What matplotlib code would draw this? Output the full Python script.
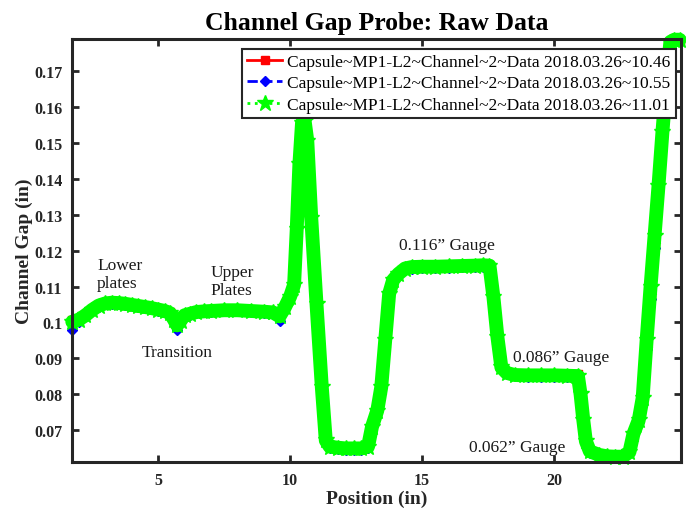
"""
Channel gap probe raw data plot
"""
import matplotlib
matplotlib.use("Agg")
import matplotlib.pyplot as plt

# position along the channel (in)
position = [
    1.75, 2.0, 2.25, 2.5, 2.75, 3.0, 3.25, 3.5, 3.75, 4.0,
    4.25, 4.5, 4.75, 5.0, 5.25, 5.45, 5.6, 5.72, 5.85, 6.0,
    6.2, 6.45, 6.75, 7.0, 7.5, 8.0, 8.5, 9.0, 9.35, 9.6,
    9.8, 10.0, 10.15, 10.25, 10.35, 10.45, 10.55, 10.65, 10.8, 11.0,
    11.2, 11.35, 11.5, 11.8, 12.1, 12.4, 12.7, 12.95, 13.1, 13.3,
    13.45, 13.6, 13.75, 13.9, 14.1, 14.35, 14.6, 15.0, 15.5, 16.0,
    16.5, 17.0, 17.3, 17.55, 17.7, 17.85, 18.0, 18.2, 18.5, 19.0,
    19.5, 20.0, 20.5, 20.9, 21.0, 21.1, 21.2, 21.35, 21.7, 22.0,
    22.3, 22.6, 22.85, 23.0, 23.2, 23.35, 23.5, 23.65, 23.8, 23.95,
    24.1, 24.25, 24.4, 24.55, 24.75,
]

# channel gap (in) for the three runs
gap_1046 = [
    0.1006, 0.1012, 0.1023, 0.1037, 0.1048, 0.1054, 0.1056, 0.1055, 0.1053, 0.1050,
    0.1047, 0.1044, 0.1041, 0.1037, 0.1034, 0.1030, 0.1012, 0.0995, 0.1008, 0.1022,
    0.1025, 0.1030, 0.1032, 0.1033, 0.1035, 0.1035, 0.1033, 0.1031, 0.1029, 0.1019,
    0.1044, 0.1074, 0.1108, 0.1265, 0.1445, 0.1562, 0.1568, 0.1510, 0.1295, 0.1055,
    0.0825, 0.0675, 0.0656, 0.0653, 0.0651, 0.0651, 0.0651, 0.0656, 0.0712, 0.0757,
    0.0822, 0.0952, 0.1082, 0.1119, 0.1136, 0.1151, 0.1155, 0.1156, 0.1156, 0.1157,
    0.1158, 0.1159, 0.1160, 0.1161, 0.1074, 0.0963, 0.0877, 0.0861, 0.0855, 0.0854,
    0.0854, 0.0854, 0.0853, 0.0856, 0.0805, 0.0733, 0.0672, 0.0643, 0.0633, 0.0629,
    0.0628, 0.0628, 0.0641, 0.0692, 0.0730, 0.0792, 0.0935, 0.1075, 0.1215, 0.1355,
    0.1495, 0.1643, 0.1762, 0.1786, 0.1786,
]
gap_1055 = [
    0.0978, 0.1002, 0.1017, 0.1032, 0.1044, 0.1050, 0.1052, 0.1051, 0.1049, 0.1046,
    0.1043, 0.1040, 0.1037, 0.1033, 0.1029, 0.1023, 0.1004, 0.0978, 0.1001, 0.1016,
    0.1020, 0.1026, 0.1028, 0.1029, 0.1031, 0.1031, 0.1029, 0.1027, 0.1025, 0.1005,
    0.1038, 0.1068, 0.1100, 0.1255, 0.1435, 0.1550, 0.1555, 0.1500, 0.1285, 0.1045,
    0.0815, 0.0668, 0.0650, 0.0647, 0.0645, 0.0645, 0.0645, 0.0650, 0.0706, 0.0751,
    0.0816, 0.0946, 0.1076, 0.1114, 0.1131, 0.1146, 0.1150, 0.1151, 0.1151, 0.1152,
    0.1153, 0.1154, 0.1155, 0.1154, 0.1066, 0.0956, 0.0871, 0.0856, 0.0850, 0.0849,
    0.0849, 0.0849, 0.0848, 0.0847, 0.0796, 0.0726, 0.0666, 0.0638, 0.0628, 0.0624,
    0.0623, 0.0623, 0.0636, 0.0686, 0.0724, 0.0786, 0.0926, 0.1066, 0.1206, 0.1346,
    0.1486, 0.1636, 0.1756, 0.1784, 0.1784,
]
gap_1101 = [
    0.1002, 0.1008, 0.1020, 0.1035, 0.1047, 0.1053, 0.1055, 0.1054, 0.1052, 0.1049,
    0.1046, 0.1043, 0.1040, 0.1036, 0.1032, 0.1026, 0.1008, 0.0992, 0.1005, 0.1020,
    0.1024, 0.1029, 0.1031, 0.1032, 0.1034, 0.1034, 0.1032, 0.1030, 0.1028, 0.1017,
    0.1042, 0.1072, 0.1105, 0.1260, 0.1440, 0.1555, 0.1560, 0.1505, 0.1290, 0.1050,
    0.0820, 0.0672, 0.0655, 0.0652, 0.0650, 0.0650, 0.0650, 0.0655, 0.0710, 0.0755,
    0.0820, 0.0950, 0.1080, 0.1118, 0.1135, 0.1150, 0.1154, 0.1155, 0.1155, 0.1156,
    0.1157, 0.1158, 0.1159, 0.1158, 0.1070, 0.0960, 0.0875, 0.0860, 0.0854, 0.0853,
    0.0853, 0.0853, 0.0852, 0.0851, 0.0800, 0.0730, 0.0670, 0.0642, 0.0632, 0.0628,
    0.0627, 0.0627, 0.0640, 0.0690, 0.0728, 0.0790, 0.0950, 0.1100, 0.1240, 0.1380,
    0.1530, 0.1670, 0.1780, 0.1786, 0.1786,
]

labels = [
    "Capsule~MP1-L2~Channel~2~Data 2018.03.26~10.46",
    "Capsule~MP1-L2~Channel~2~Data 2018.03.26~10.55",
    "Capsule~MP1-L2~Channel~2~Data 2018.03.26~11.01",
]

# annotation text and where it sits (data coords)
notes = ["Lower\nplates", "Transition", "Upper\nPlates",
         "0.116\u201d Gauge", "0.086\u201d Gauge", "0.062\u201d Gauge"]
note_x = [2.69, 4.39, 6.97, 14.13, 18.44, 16.78]
note_y = [0.1135, 0.0917, 0.1115, 0.1216, 0.0903, 0.0654]

plt.rcParams["font.family"] = ["Liberation Serif", "DejaVu Serif"]

fig = plt.figure(figsize=(6.86, 5.10), dpi=100)
ax = fig.add_axes([0.105, 0.092, 0.888, 0.8296])

ax.plot(position, gap_1046, color="red", linestyle="-", linewidth=2,
        marker="s", markersize=6, clip_on=False, label=labels[0])
ax.plot(position, gap_1055, color="blue", linestyle="--", linewidth=2,
        marker="D", markersize=5, clip_on=False, label=labels[1])
# thick band under the stars, the raw data is sampled very densely
ax.plot(position, gap_1101, color="#00ff00", linestyle="-", linewidth=10,
        solid_capstyle="round", solid_joinstyle="round", clip_on=False)
ax.plot(position, gap_1101, color="#00ff00", linestyle=":", linewidth=2,
        marker="*", markersize=12, clip_on=False, label=labels[2])

for txt, x, y in zip(notes, note_x, note_y):
    ax.text(x, y, txt, fontsize=12.5, ha="left", va="center",
            linespacing=1.2, color="#1a1a1a")

ax.set_xlim(1.74, 24.81)
ax.set_ylim(0.0612, 0.1788)
ax.set_xticks([5, 10, 15, 20])
ax.set_yticks([0.07, 0.08, 0.09, 0.1, 0.11, 0.12, 0.13, 0.14, 0.15, 0.16, 0.17])
ax.set_yticklabels(["0.07", "0.08", "0.09", "0.1", "0.11", "0.12", "0.13",
                    "0.14", "0.15", "0.16", "0.17"])

ax.tick_params(direction="in", top=True, right=True, length=5, width=2,
               labelsize=11.5, color="#262626", labelcolor="#262626")
ax.tick_params(axis="x", pad=7)
ax.tick_params(axis="y", pad=7)
for lbl in ax.get_xticklabels() + ax.get_yticklabels():
    lbl.set_fontweight("bold")
for sp in ax.spines.values():
    sp.set_linewidth(2.2)
    sp.set_color("#262626")

ax.set_title("Channel Gap Probe: Raw Data", fontsize=18.5, fontweight="bold", pad=7)
ax.set_xlabel("Position (in)", fontsize=14, fontweight="bold",
              color="#262626", labelpad=1)
ax.set_ylabel("Channel Gap (in)", fontsize=14, fontweight="bold",
              color="#262626", labelpad=1)

leg = ax.legend(loc="upper right", bbox_to_anchor=(0.991, 0.977), fontsize=12.5,
                frameon=True, fancybox=False, framealpha=1, edgecolor="#262626",
                handlelength=2.0, handletextpad=0.3, borderpad=0.3,
                labelspacing=0.3, borderaxespad=0)
leg.get_frame().set_linewidth(1.5)

fig.savefig("out.png", dpi=100)
